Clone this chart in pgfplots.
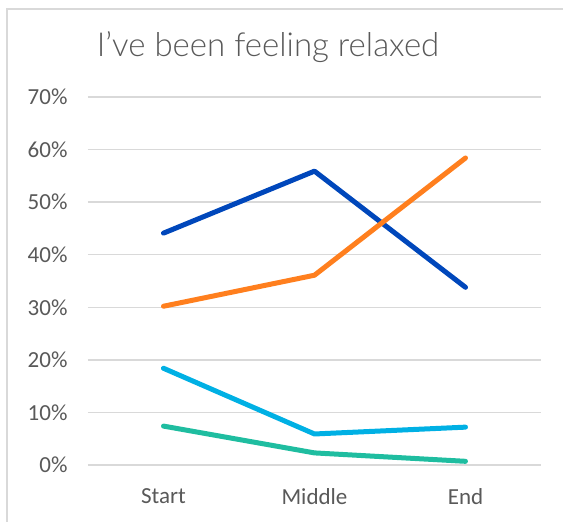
\documentclass[border=0pt]{standalone}
\usepackage{fontspec}
\setmainfont{Carlito}
\newfontfamily\titlefont{Lato Light}
\usepackage{pgfplots}
\pgfplotsset{compat=1.18}
\definecolor{dblue}{RGB}{0,71,187}
\definecolor{orng}{RGB}{255,127,30}
\definecolor{lblue}{RGB}{0,176,228}
\definecolor{teal}{RGB}{31,189,160}
\definecolor{txt}{RGB}{89,89,89}
\definecolor{gridc}{RGB}{217,217,217}
\begin{document}
\begin{tikzpicture}[x=1pt,y=1pt]
\useasboundingbox (0,0) rectangle (563,522);
\draw[gridc, line width=2pt] (7,0) -- (7,513) -- (563,513);
\node[text=txt, font=\titlefont\fontsize{33}{38}\selectfont] at (268,475) {I’ve been feeling relaxed};
\begin{axis}[
  at={(88pt,57pt)}, anchor=south west,
  scale only axis, width=453pt, height=368pt,
  xmin=-0.5, xmax=2.5, ymin=0, ymax=70,
  xtick={0,1,2}, xticklabels={Start,Middle,End},
  ytick={0,10,...,70},
  yticklabel={\pgfmathprintnumber{\tick}\%},
  /pgf/number format/assume math mode=true,
  ymajorgrids, grid style={gridc, line width=1.5pt},
  axis line style={draw=none},
  axis x line*=bottom,
  x axis line style={gridc, line width=1.5pt},
  major tick length=0pt,
  tick label style={text=txt, font=\fontsize{23}{27}\selectfont},
  yticklabel style={xshift=-17pt},
  xticklabel style={yshift=-20pt},
  clip=false,
]
\addplot[dblue, line width=5pt, line cap=round, line join=round] coordinates {(0,44.1) (1,55.9) (2,33.8)};
\addplot[orng, line width=5pt, line cap=round, line join=round] coordinates {(0,30.2) (1,36.1) (2,58.4)};
\addplot[lblue, line width=5pt, line cap=round, line join=round] coordinates {(0,18.4) (1,5.9) (2,7.2)};
\addplot[teal, line width=5pt, line cap=round, line join=round] coordinates {(0,7.4) (1,2.3) (2,0.7)};
\end{axis}
\end{tikzpicture}
\end{document}
